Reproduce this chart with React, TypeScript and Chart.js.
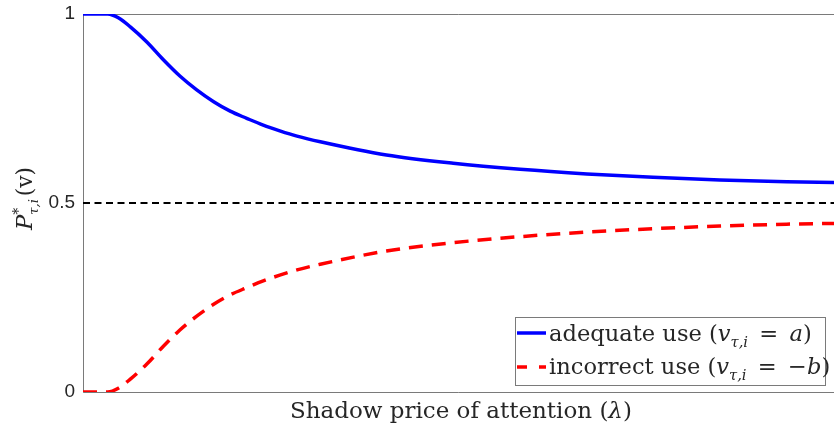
import React, { useEffect, useRef } from "react";
import { Chart, registerables } from "chart.js";

Chart.register(...registerables);

// Shadow price of attention (arbitrary units, axis has no tick labels)
const lambdaValues = [0, 0.2, 0.33, 0.47, 0.63, 0.85, 1.07, 1.29, 1.51, 1.74, 1.96, 2.18, 2.4, 2.62, 2.85, 3.16, 4.04, 4.93, 5.82, 6.71, 7.59, 8.48, 9.37, 10];
const adequateUse = [1, 1, 1, 0.99, 0.966, 0.926, 0.879, 0.836, 0.8, 0.768, 0.743, 0.724, 0.706, 0.691, 0.677, 0.662, 0.627, 0.605, 0.589, 0.577, 0.568, 0.561, 0.556, 0.554];
const incorrectUse = [0, 0, 0, 0.01, 0.034, 0.074, 0.121, 0.164, 0.2, 0.232, 0.257, 0.276, 0.294, 0.309, 0.323, 0.338, 0.373, 0.395, 0.411, 0.423, 0.432, 0.439, 0.444, 0.446];
const referenceLevel = 0.5;
const yTickValues = [0, 0.5, 1];
const xRange = [0, 10];

const SERIF = "'DejaVu Serif'";
const AXIS_COLOR = "#7a7a7a";
const TEXT_COLOR = "#262626";

type Seg = { t: string; size: number; italic?: boolean; dy?: number; stack?: boolean; gapL?: number; gapR?: number };

function fontOf(s: Seg, k: number) {
  return `${s.italic ? "italic " : ""}${(s.size * k).toFixed(2)}px ${SERIF}`;
}

function richWidth(ctx: CanvasRenderingContext2D, segs: Seg[], k: number) {
  let w = 0;
  let stackW = 0;
  for (const s of segs) {
    ctx.font = fontOf(s, k);
    const sw = ctx.measureText(s.t).width;
    if (s.stack) {
      stackW = Math.max(stackW, sw);
    } else {
      w += (s.gapL || 0) * k + Math.max(sw, stackW) + (s.gapR || 0) * k;
      stackW = 0;
    }
  }
  return w;
}

function drawRich(ctx: CanvasRenderingContext2D, x: number, y: number, segs: Seg[], k: number) {
  let cx = x;
  let stackW = 0;
  for (const s of segs) {
    ctx.font = fontOf(s, k);
    const sw = ctx.measureText(s.t).width;
    if (s.stack) {
      ctx.fillText(s.t, cx, y + (s.dy || 0) * k);
      stackW = Math.max(stackW, sw);
    } else {
      cx += (s.gapL || 0) * k;
      ctx.fillText(s.t, cx, y + (s.dy || 0) * k);
      cx += Math.max(sw, stackW) + (s.gapR || 0) * k;
      stackW = 0;
    }
  }
}

const xLabel: Seg[] = [
  { t: "Shadow price of attention (", size: 20 },
  { t: "λ", size: 20, italic: true },
  { t: ")", size: 20 },
];
const yLabel: Seg[] = [
  { t: "P", size: 24, italic: true },
  { t: "*", size: 15, dy: -10, stack: true },
  { t: "τ,i", size: 14, italic: true, dy: 6 },
  { t: "(v)", size: 23, gapL: 3 },
];
const legend1: Seg[] = [
  { t: "adequate use (", size: 20 },
  { t: "v", size: 20, italic: true },
  { t: "τ,i", size: 13, italic: true, dy: 5 },
  { t: "=", size: 20, gapL: 10, gapR: 10 },
  { t: "a", size: 20, italic: true },
  { t: ")", size: 20 },
];
const legend2: Seg[] = [
  { t: "incorrect use (", size: 20 },
  { t: "v", size: 20, italic: true },
  { t: "τ,i", size: 13, italic: true, dy: 5 },
  { t: "=", size: 20, gapL: 10, gapR: 10 },
  { t: "−", size: 20 },
  { t: "b", size: 20, italic: true },
  { t: ")", size: 20 },
];

const decorPlugin = {
  id: "decor",
  beforeDatasetsDraw(chart: any) {
    const { ctx, chartArea } = chart;
    const { left, right, top, bottom } = chartArea;
    const yScale = chart.scales.y;
    ctx.save();
    ctx.strokeStyle = AXIS_COLOR;
    ctx.lineWidth = 1;
    ctx.beginPath();
    const l = Math.round(left) + 0.5;
    const t = Math.round(top) + 0.5;
    const b = Math.round(bottom) + 0.5;
    ctx.moveTo(right, t);
    ctx.lineTo(l, t);
    ctx.lineTo(l, b);
    ctx.lineTo(right, b);
    for (const v of yTickValues) {
      const py = Math.round(yScale.getPixelForValue(v)) + 0.5;
      ctx.moveTo(l, py);
      ctx.lineTo(l + 6, py);
    }
    ctx.stroke();
    ctx.restore();
  },
  afterDraw(chart: any) {
    const { ctx } = chart;
    ctx.save();
    ctx.fillStyle = TEXT_COLOR;
    ctx.textBaseline = "alphabetic";
    ctx.textAlign = "left";

    // x-axis label
    const kx = 342 / richWidth(ctx, xLabel, 1);
    drawRich(ctx, 290, 418, xLabel, kx);

    // y-axis label (rotated)
    ctx.save();
    ctx.translate(32, 230);
    ctx.rotate(-Math.PI / 2);
    const ky = 63 / richWidth(ctx, yLabel, 1);
    drawRich(ctx, 0, 0, yLabel, ky);
    ctx.restore();

    // legend
    const bx = 515.5, by = 317.5, bw = 310, bh = 68;
    ctx.fillStyle = "#ffffff";
    ctx.fillRect(bx, by, bw, bh);
    ctx.strokeStyle = AXIS_COLOR;
    ctx.lineWidth = 1;
    ctx.strokeRect(bx, by, bw, bh);

    ctx.lineWidth = 3.5;
    ctx.strokeStyle = "#0000ff";
    ctx.setLineDash([]);
    ctx.beginPath();
    ctx.moveTo(517, 333);
    ctx.lineTo(546, 333);
    ctx.stroke();

    ctx.strokeStyle = "#ff0000";
    ctx.setLineDash([10, 12]);
    ctx.beginPath();
    ctx.moveTo(517, 367);
    ctx.lineTo(546, 367);
    ctx.stroke();
    ctx.setLineDash([]);

    ctx.fillStyle = TEXT_COLOR;
    const kl = 263 / richWidth(ctx, legend1, 1);
    drawRich(ctx, 549, 341, legend1, kl);
    drawRich(ctx, 549, 374, legend2, kl);
    ctx.restore();
  },
};

export default function App() {
  const canvasRef = useRef<HTMLCanvasElement | null>(null);

  useEffect(() => {
    document.body.style.margin = "0";
    const canvas = canvasRef.current;
    if (!canvas) return;
    const toPts = (ys: number[]) => lambdaValues.map((x, i) => ({ x, y: ys[i] }));
    const chart = new Chart(canvas, {
      type: "line",
      data: {
        datasets: [
          {
            label: "adequate use",
            data: toPts(adequateUse),
            borderColor: "#0000ff",
            borderWidth: 3.5,
            pointRadius: 0,
            cubicInterpolationMode: "monotone",
            fill: false,
          },
          {
            label: "incorrect use",
            data: toPts(incorrectUse),
            borderColor: "#ff0000",
            borderWidth: 3.5,
            borderDash: [14, 9],
            pointRadius: 0,
            cubicInterpolationMode: "monotone",
            fill: false,
          },
          {
            label: "reference",
            data: [
              { x: xRange[0], y: referenceLevel },
              { x: xRange[1], y: referenceLevel },
            ],
            borderColor: "#000000",
            borderWidth: 2,
            borderDash: [7, 4.5],
            pointRadius: 0,
            fill: false,
          },
        ],
      },
      options: {
        animation: false,
        responsive: true,
        maintainAspectRatio: false,
        layout: { padding: { left: 8, top: 14, right: 0, bottom: 39 } },
        plugins: { legend: { display: false }, tooltip: { enabled: false } },
        scales: {
          x: { type: "linear", min: xRange[0], max: xRange[1], display: false },
          y: {
            type: "linear",
            min: 0,
            max: 1,
            afterBuildTicks: (scale: any) => {
              scale.ticks = yTickValues.map((v) => ({ value: v }));
            },
            afterFit: (scale: any) => {
              scale.width = 75;
              scale.paddingTop = 0;
              scale.paddingBottom = 0;
            },
            ticks: {
              autoSkip: false,
              padding: 8,
              color: TEXT_COLOR,
              font: { family: "'Liberation Sans'", size: 19 },
              callback: (v: any) => String(v),
            },
            grid: { display: false, drawTicks: false },
            border: { display: false },
          },
        },
      },
      plugins: [decorPlugin],
    });
    return () => chart.destroy();
  }, []);

  return (
    <div style={{ position: "absolute", left: 0, top: 0, width: 834, height: 431, background: "#fff" }}>
      <canvas ref={canvasRef} />
    </div>
  );
}
